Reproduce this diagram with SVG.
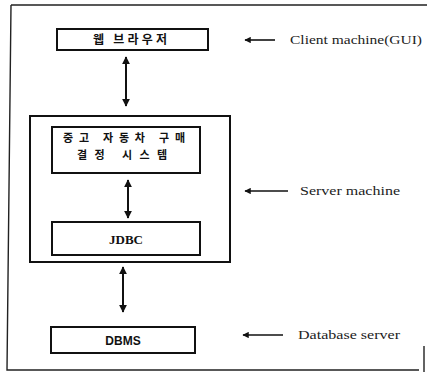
<svg xmlns="http://www.w3.org/2000/svg" width="428" height="379" viewBox="0 0 428 379">
<style>
.box{fill:#fff;stroke:#111;stroke-width:2}
.frame{fill:none;stroke:#222;stroke-width:1.4}
.ko{font-family:"Noto Sans CJK KR","Noto Sans",sans-serif;font-weight:bold;font-size:12px;fill:#111}
.ko2{font-family:"Noto Sans CJK KR","Noto Sans",sans-serif;font-weight:bold;font-size:11px;fill:#111}
.lbl{font-family:"Liberation Serif",serif;font-size:12px;fill:#222}
.con{stroke:#111;stroke-width:2;fill:none}
.ptr{stroke:#111;stroke-width:1.6;fill:none}
</style>
<defs>
<marker id="ah" viewBox="0 0 10 10" refX="9" refY="5" markerWidth="4" markerHeight="4" orient="auto-start-reverse" markerUnits="strokeWidth">
<path d="M0,0 L10,5 L0,10 z" fill="#111"/>
</marker>
<marker id="ph" viewBox="0 0 10 10" refX="9" refY="5" markerWidth="5" markerHeight="4" orient="auto" markerUnits="strokeWidth">
<path d="M0,0 L10,5 L0,10 z" fill="#111"/>
</marker>
</defs>
<g id="frame">
<path class="frame" d="M11,5 L427,5 M11,5 L7,370 L419,370 M424,346 L424,372"/>
</g>
<g id="server">
<rect class="box" x="30" y="116" width="200" height="146"/>
</g>
<g id="web-browser">
<rect class="box" x="57" y="29" width="151" height="21"/>
<text class="ko" x="130" y="44" text-anchor="middle" textLength="74" lengthAdjust="spacing">웹 브라우저</text>
</g>
<g id="app">
<rect class="box" x="52" y="127" width="148" height="46"/>
<text class="ko2" x="124" y="142" text-anchor="middle" textLength="122" lengthAdjust="spacing">중고 자동차 구매</text>
<text class="ko2" x="122" y="159" text-anchor="middle" textLength="90" lengthAdjust="spacing">결정 시스템</text>
</g>
<g id="jdbc">
<rect class="box" x="52" y="222" width="148" height="33"/>
<text x="126" y="244" text-anchor="middle" font-family="Liberation Serif, serif" font-weight="bold" font-size="13" fill="#111">JDBC</text>
</g>
<g id="dbms">
<rect class="box" x="51" y="327" width="144" height="26"/>
<text x="123" y="345" text-anchor="middle" font-family="Liberation Sans, sans-serif" font-weight="bold" font-size="12" fill="#111">DBMS</text>
</g>
<g id="labels">
<text class="lbl" x="290" y="44" textLength="132" lengthAdjust="spacingAndGlyphs">Client machine(GUI)</text>
<text class="lbl" x="300" y="195" textLength="100" lengthAdjust="spacingAndGlyphs">Server machine</text>
<text class="lbl" x="298" y="339" textLength="102" lengthAdjust="spacingAndGlyphs">Database server</text>
</g>
<g id="connectors">
<line class="con" x1="126" y1="57" x2="126" y2="106" marker-start="url(#ah)" marker-end="url(#ah)"/>
<line class="con" x1="128" y1="180" x2="128" y2="218" marker-start="url(#ah)" marker-end="url(#ah)"/>
<line class="con" x1="123" y1="267" x2="123" y2="312" marker-start="url(#ah)" marker-end="url(#ah)"/>
<line class="ptr" x1="275" y1="40" x2="245" y2="40" marker-end="url(#ph)"/>
<line class="ptr" x1="288" y1="191" x2="245" y2="191" marker-end="url(#ph)"/>
<line class="ptr" x1="283" y1="335" x2="243" y2="335" marker-end="url(#ph)"/>
</g>
</svg>
